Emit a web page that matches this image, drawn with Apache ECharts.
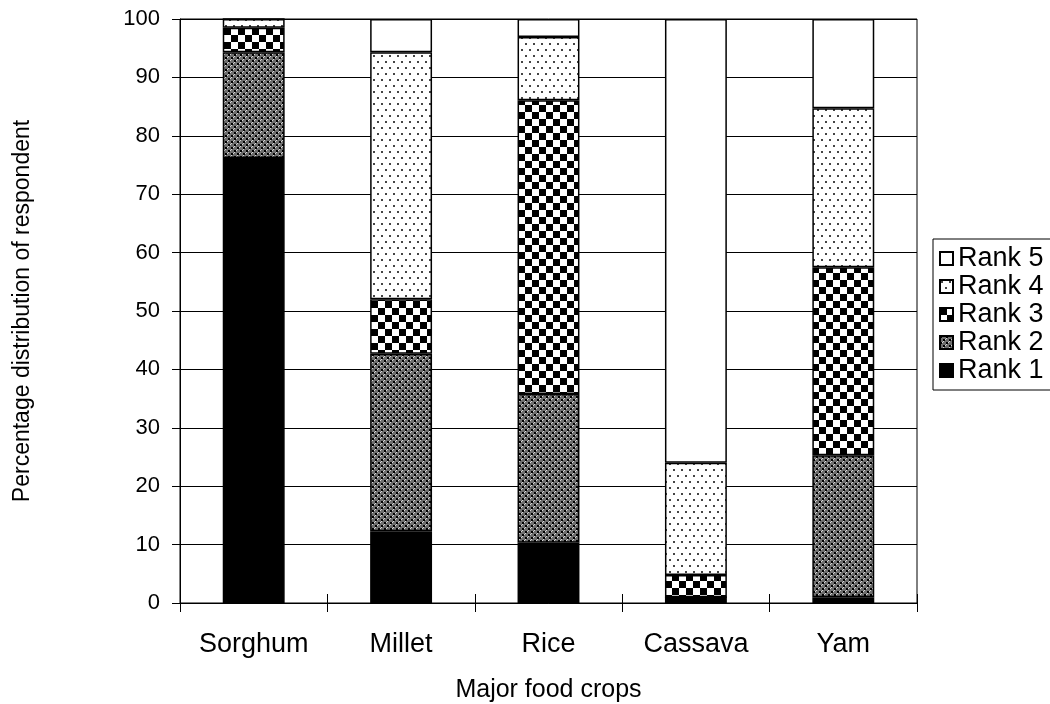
<!DOCTYPE html>
<html><head><meta charset="utf-8">
<script src="https://cdn.jsdelivr.net/npm/echarts@6/dist/echarts.min.js"></script>
<style>html,body{margin:0;padding:0;background:#fff}#c{width:1050px;height:704px}</style>
</head><body><div id="c"></div>
<script>
const categories = ['Sorghum', 'Millet', 'Rice', 'Cassava', 'Yam'];
const rank1 = [76.2, 12.3, 10.3, 1.0, 1.0];
const rank2 = [18.1, 30.4, 25.5, 0, 24.3];
const rank3 = [4.2, 9.3, 50.3, 3.8, 32.2];
const rank4 = [1.5, 42.3, 10.8, 19.2, 27.2];
const rank5 = [0, 5.7, 3.1, 76.0, 15.3];
const seriesNames = ['Rank 1', 'Rank 2', 'Rank 3', 'Rank 4', 'Rank 5'];
const legendOrder = ['Rank 5', 'Rank 4', 'Rank 3', 'Rank 2', 'Rank 1'];
const yTicks = [0, 10, 20, 30, 40, 50, 60, 70, 80, 90, 100];

function tile(w, h, draw) {
  const c = document.createElement('canvas');
  c.width = w; c.height = h;
  const g = c.getContext('2d');
  draw(g);
  return { image: c, repeat: 'repeat' };
}
const patSolid = '#000';
const patCross = tile(6, 6, g => {
  g.fillStyle = '#6e6e6e'; g.fillRect(0, 0, 6, 6);
  g.fillStyle = '#000';
  g.fillRect(0, 0, 2, 2); g.fillRect(3, 3, 2, 2);
  g.fillStyle = '#d8d8d8';
  g.fillRect(2, 0, 1, 1); g.fillRect(0, 2, 1, 1); g.fillRect(5, 3, 1, 1); g.fillRect(3, 5, 1, 1);
});
const patCheck = tile(14, 14, g => {
  g.fillStyle = '#fff'; g.fillRect(0, 0, 14, 14);
  g.fillStyle = '#000'; g.fillRect(0, 0, 7, 7); g.fillRect(7, 7, 7, 7);
});
const patDots = tile(8, 12, g => {
  g.fillStyle = '#fff'; g.fillRect(0, 0, 8, 12);
  g.fillStyle = '#444'; g.fillRect(1, 1, 2, 2); g.fillRect(5, 7, 2, 2);
});
const patWhite = '#fff';
const colors = [patSolid, patCross, patCheck, patDots, patWhite];
const values = [rank1, rank2, rank3, rank4, rank5];

const chart = echarts.init(document.getElementById('c'), null, { renderer: 'canvas' });
const font = 'Liberation Sans, Arial, sans-serif';
chart.setOption({
  animation: false,
  textStyle: { fontFamily: font, color: '#000' },
  grid: { left: 180, right: 133, top: 19, bottom: 101, show: true, borderColor: '#000', borderWidth: 1,
    containLabel: false, outerBoundsMode: 'none' },
  legend: {
    orient: 'vertical', left: 933, top: 239,
    data: legendOrder,
    itemWidth: 13, itemHeight: 13, itemGap: 1,
    borderColor: '#000', borderWidth: 1, padding: [6, 24, 6, 6],
    textStyle: { fontSize: 27, color: '#000', fontFamily: font, lineHeight: 27 },
    icon: 'rect'
  },
  xAxis: [{
    type: 'category', data: categories,
    name: 'Major food crops', nameLocation: 'middle', nameGap: 75,
    nameTextStyle: { fontSize: 25, color: '#000', fontFamily: font },
    axisLine: { lineStyle: { color: '#000', width: 1 } },
    axisTick: { show: true, length: 9, lineStyle: { color: '#000' } },
    axisLabel: { fontSize: 27, color: '#000', margin: 28, fontFamily: font, interval: 0, hideOverlap: false }
  }, {
    type: 'category', data: categories, position: 'bottom',
    axisLine: { show: false },
    axisTick: { show: true, inside: true, length: 9, lineStyle: { color: '#000' } },
    axisLabel: { show: false }
  }],
  yAxis: [{
    type: 'value', min: 0, max: 100, interval: 10,
    name: 'Percentage distribution of respondent', nameLocation: 'middle', nameGap: 146,
    nameTextStyle: { fontSize: 23, color: '#000', fontFamily: font },
    axisLine: { show: true, lineStyle: { color: '#000' } },
    axisTick: { show: true, length: 8, lineStyle: { color: '#000' } },
    splitLine: { lineStyle: { color: '#000', width: 1 } },
    axisLabel: { fontSize: 22, color: '#000', margin: 20, fontFamily: font,
      formatter: v => yTicks.indexOf(v) >= 0 ? String(v) : '' }
  }, {
    type: 'value', min: 0, max: 100, interval: 10, position: 'left',
    axisLine: { show: false },
    axisTick: { show: true, inside: true, length: 8, lineStyle: { color: '#000' } },
    splitLine: { show: false },
    axisLabel: { show: false }
  }],
  series: seriesNames.map((n, i) => ({
    name: n, type: 'bar', stack: 'total', data: values[i], barWidth: '42%',
    itemStyle: { color: colors[i], borderColor: '#000', borderWidth: 1.5 }
  }))
});
</script></body></html>
